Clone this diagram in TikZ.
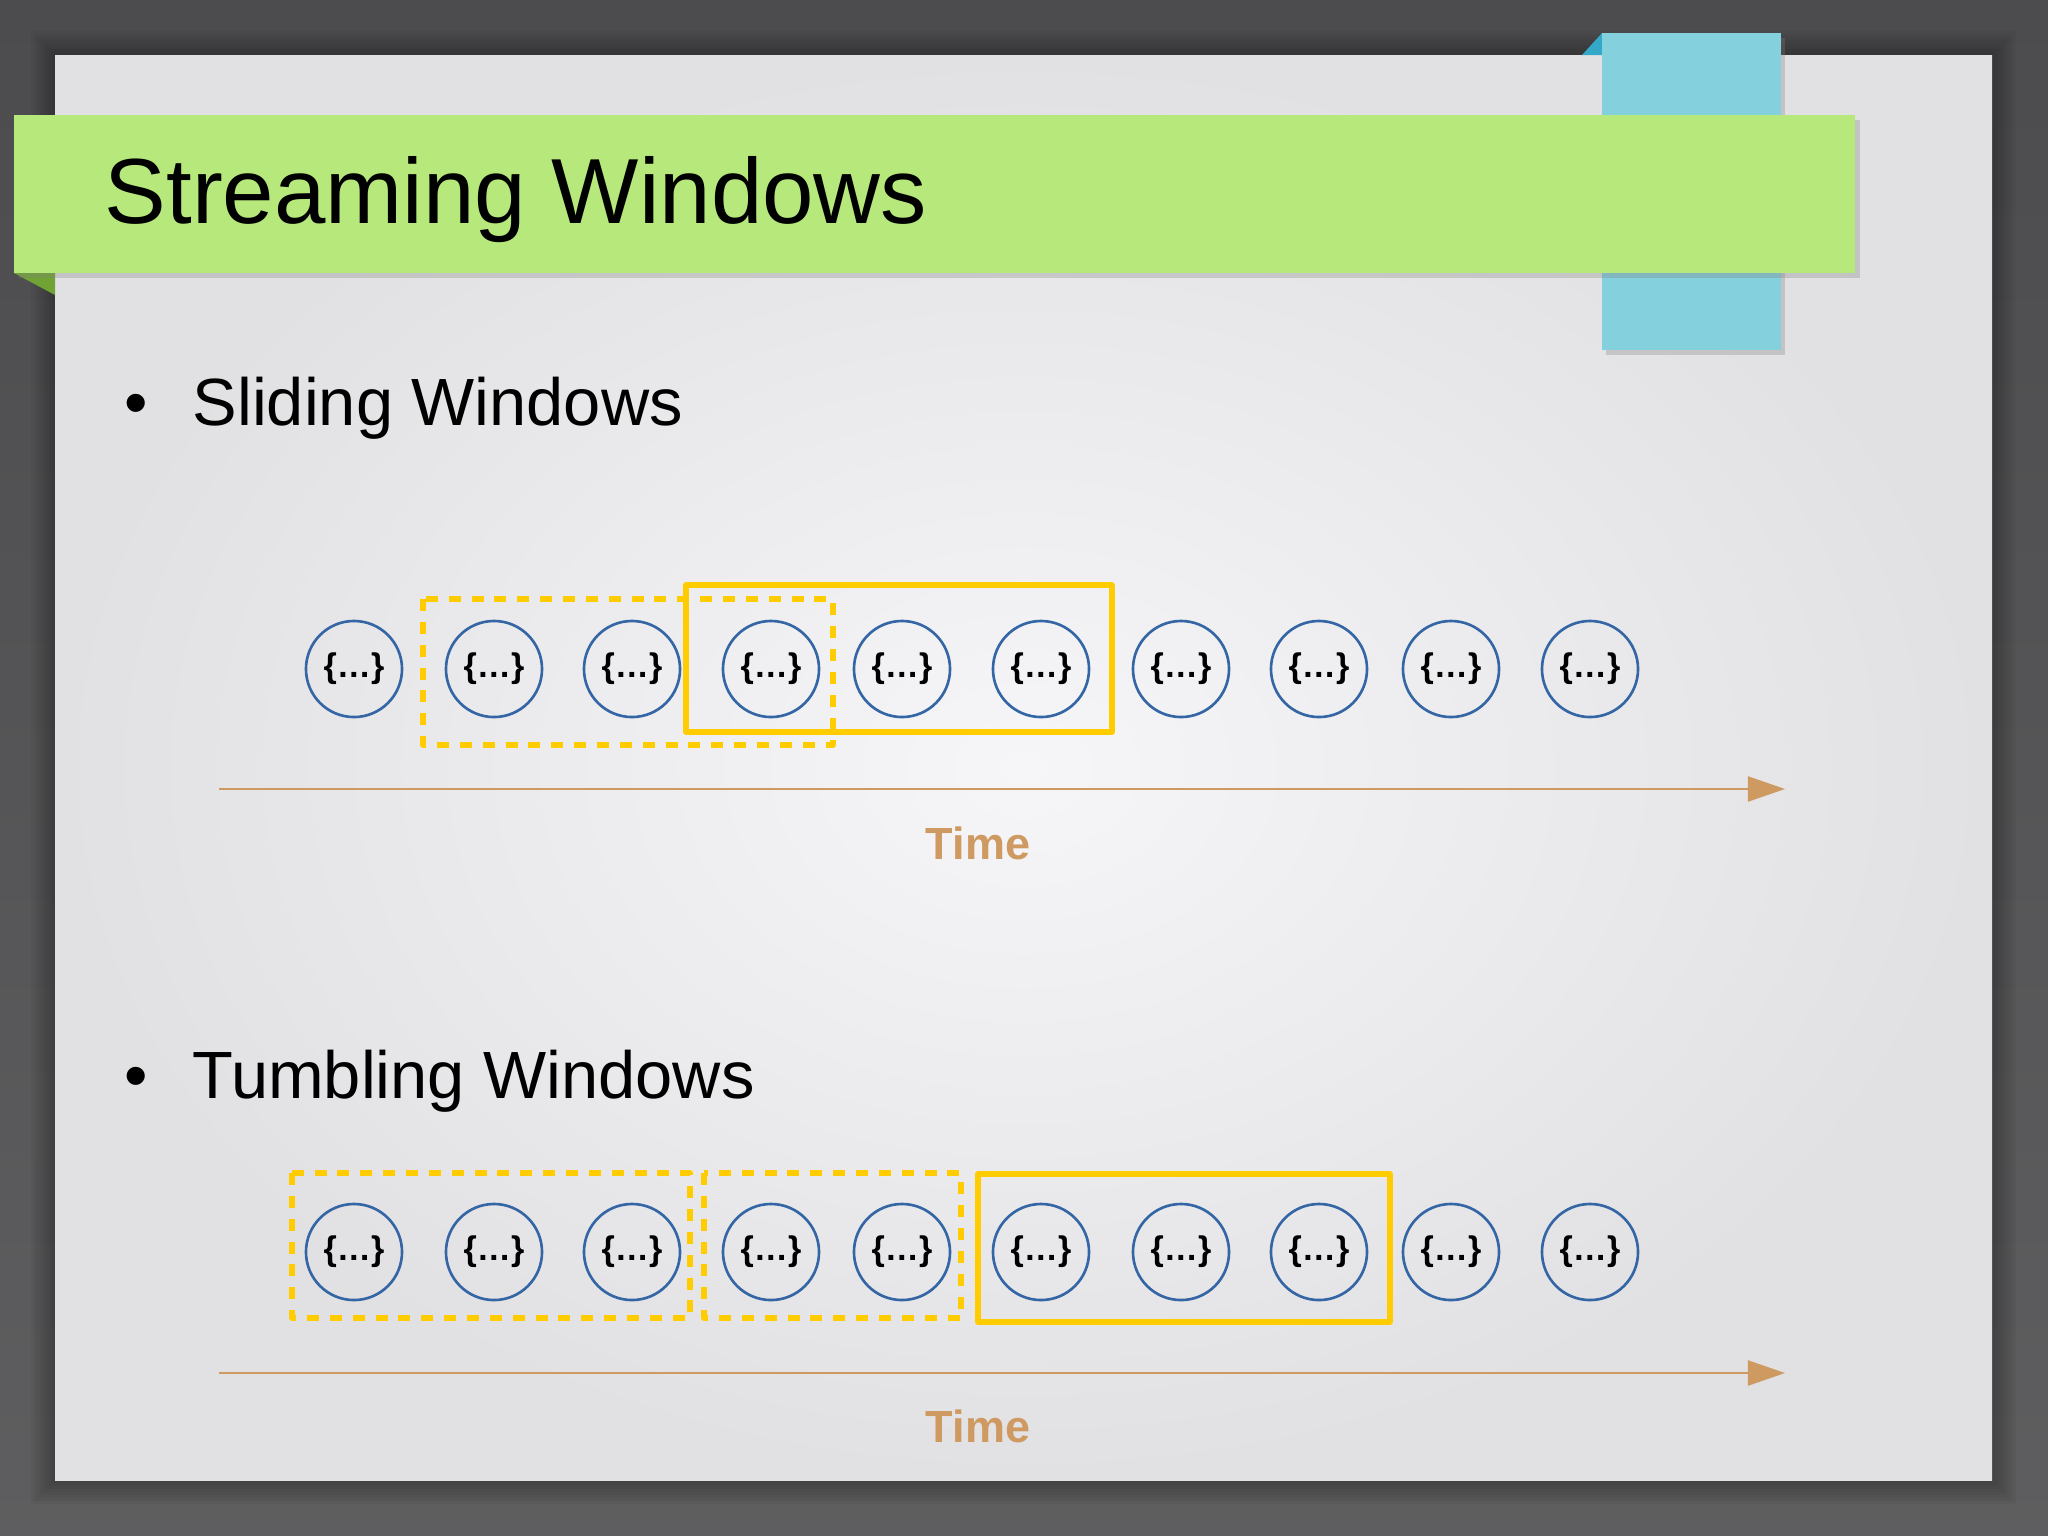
\documentclass[tikz,border=0pt]{standalone}
\usepackage{fontspec}
\setmainfont{Liberation Sans}
\usetikzlibrary{arrows.meta,shadows}

\definecolor{bgdark}{RGB}{76,76,78}
\definecolor{panelin}{RGB}{246,246,248}
\definecolor{panelout}{RGB}{225,225,227}
\definecolor{titlegreen}{RGB}{183,232,124}
\definecolor{titlefold}{RGB}{112,162,52}
\definecolor{tabblue}{RGB}{133,208,221}
\definecolor{tabfold}{RGB}{52,168,200}
\definecolor{evblue}{RGB}{52,101,164}
\definecolor{winyellow}{RGB}{255,204,0}
\definecolor{timetan}{RGB}{207,153,98}

\tikzset{
  event/.style={circle,draw=evblue,line width=0.75pt,minimum size=0.96cm,inner sep=0pt,
    font=\bfseries\fontsize{9.7}{10}\selectfont},
  window/.style={draw=winyellow,line width=1.55pt,line join=round},
  dashwin/.style={window,dash pattern=on 3.4pt off 3.1pt},
  timearrow/.style={draw=timetan,line width=0.6pt,-{Triangle[length=0.37cm,width=0.25cm]}},
  timelabel/.style={anchor=base,text=timetan,font=\bfseries\fontsize{12.8}{14}\selectfont},
  bullettext/.style={anchor=base west,font=\fontsize{19}{22}\selectfont},
}

\begin{document}
\begin{tikzpicture}[x=0.01cm,y=-0.01cm]
\useasboundingbox (0,0) rectangle (2048,1535);

% Backdrop and slide
\shade[top color=bgdark,bottom color=bgdark!90!white] (0,0) rectangle (2048,1535);
\foreach \d in {3,6,...,24}
  \fill[black,opacity=0.035] (55-\d,55-\d) rectangle (1992+\d,1480+\d);
\shade[inner color=panelin,outer color=panelout] (55,55) rectangle (1992,1480);

% Blue tab behind the title bar
\fill[tabfold] (1582,55) -- (1602,55) -- (1602,33) -- cycle;
\fill[tabblue,drop shadow={shadow xshift=1pt,shadow yshift=-1.5pt,opacity=0.3}] (1602,33) rectangle (1781,350);

% Title bar
\fill[titlefold] (14,273) -- (55,273) -- (55,295) -- cycle;
\fill[titlegreen,drop shadow={shadow xshift=1.5pt,shadow yshift=-1.5pt,opacity=0.3}] (14,115) rectangle (1855,273);
\node[anchor=base west,inner sep=0pt,font=\fontsize{26.3}{30}\selectfont] (title) at (104,223) {Streaming Windows};

% Bullets
\node[anchor=base,inner sep=0pt,font=\fontsize{19}{22}\selectfont] (bslide) at (136,425) {•};
\node[bullettext,inner sep=0pt] (slide) at (192,425) {Sliding Windows};
\node[anchor=base,inner sep=0pt,font=\fontsize{19}{22}\selectfont] (btumble) at (136,1098) {•};
\node[bullettext,inner sep=0pt] (tumble) at (192,1098) {Tumbling Windows};

% Events
\foreach \x [count=\i] in {354,494,632,771,902,1041,1181,1319,1451,1590} {
  \node[event] (s\i) at (\x,669) {\{…\}};
  \node[event] (t\i) at (\x,1252) {\{…\}};
}

% Sliding windows
\draw[dashwin] (423,599) rectangle (833,745);
\draw[window] (686,585) rectangle (1112,732);

% Tumbling windows
\draw[dashwin] (292,1173) rectangle (690,1318);
\draw[dashwin] (704,1173) rectangle (961,1318);
\draw[window] (978,1174) rectangle (1390,1322);

% Time axes
\coordinate (ss) at (219,789);
\coordinate (se) at (1785,789);
\draw[timearrow] (ss) -- (se);
\node[timelabel] (stime) at (978,859) {Time};
\coordinate (ts) at (219,1373);
\coordinate (te) at (1785,1373);
\draw[timearrow] (ts) -- (te);
\node[timelabel] (ttime) at (978,1442) {Time};

\end{tikzpicture}
\end{document}
